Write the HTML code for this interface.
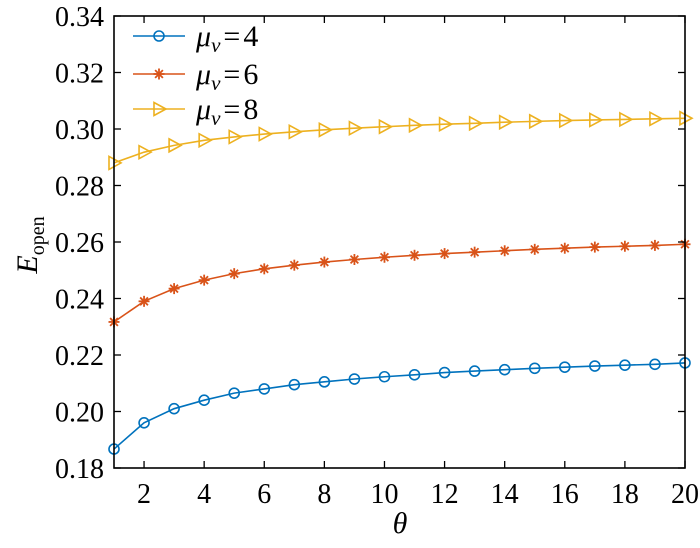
<!DOCTYPE html>
<html><head><meta charset="utf-8"><style>
html,body{margin:0;padding:0;background:#fff}
text,tspan{font-family:"Liberation Serif","DejaVu Serif",serif}
</style></head><body>
<svg id="s" width="700" height="543" viewBox="0 0 700 543" xmlns="http://www.w3.org/2000/svg" font-family="Liberation Serif, DejaVu Serif, serif"></svg>
<script>
const L=114,R=685,T=16,B=468;
const X=v=>L+(v-1)*(R-L)/19, Y=v=>B-(v-0.18)*(B-T)/0.16;
const blue=[0.1867,0.196,0.201,0.204,0.2065,0.208,0.2095,0.2105,0.2115,0.2123,0.213,0.2138,0.2143,0.2148,0.2153,0.2157,0.2161,0.2164,0.2167,0.2172];
const orng=[0.2317,0.239,0.2435,0.2465,0.2488,0.2505,0.2518,0.2529,0.2538,0.2546,0.2553,0.2559,0.2564,0.2569,0.2574,0.2578,0.2582,0.2585,0.2588,0.2592];
const yel=[0.288,0.2918,0.2942,0.296,0.2972,0.2982,0.299,0.2997,0.3003,0.3008,0.3013,0.3017,0.302,0.3024,0.3027,0.303,0.3032,0.3034,0.3036,0.3038];
let h='';
const F='font-family="Liberation Serif, DejaVu Serif, serif"';
const C1='#0072BD',C2='#D95319',C3='#EDB120';
function mk(t,x,y,c){
 if(t==0)return `<circle cx="${x}" cy="${y}" r="5" fill="none" stroke="${c}" stroke-width="1.6"/>`;
 if(t==1){let s='';for(let a=0;a<4;a++){const an=a*Math.PI/4,dx=5.5*Math.cos(an),dy=5.5*Math.sin(an);s+=`<line x1="${x-dx}" y1="${y-dy}" x2="${x+dx}" y2="${y+dy}" stroke="${c}" stroke-width="1.8"/>`;}return s;}
 return `<polygon points="${x-5},${y-6.5} ${x+7},${y} ${x-5},${y+6.5}" fill="none" stroke="${c}" stroke-width="1.6"/>`;
}
[[blue,C1,0],[orng,C2,1],[yel,C3,2]].forEach(([d,c,t])=>{
 h+=`<polyline fill="none" stroke="${c}" stroke-width="1.6" points="${d.map((v,i)=>X(i+1)+','+Y(v)).join(' ')}"/>`;
 d.forEach((v,i)=>h+=mk(t,X(i+1),Y(v),c));
});
h+=`<rect x="${L}" y="${T}" width="${R-L}" height="${B-T}" fill="none" stroke="#000" stroke-width="1.6"/>`;
for(let v=2;v<=20;v+=2){const x=X(v);h+=`<line x1="${x}" y1="${B}" x2="${x}" y2="${B-7}" stroke="#000" stroke-width="1.3"/><line x1="${x}" y1="${T}" x2="${x}" y2="${T+7}" stroke="#000" stroke-width="1.3"/><text ${F} x="${x}" y="${B+35}" font-size="28" text-anchor="middle">${v}</text>`;}
for(let k=0;k<=8;k++){const v=0.18+k*0.02,y=Y(v);h+=`<line x1="${L}" y1="${y}" x2="${L+7}" y2="${y}" stroke="#000" stroke-width="1.3"/><line x1="${R}" y1="${y}" x2="${R-7}" y2="${y}" stroke="#000" stroke-width="1.3"/><text ${F} x="${L-10}" y="${y+10}" font-size="28" text-anchor="end">${v.toFixed(2)}</text>`;}
h+=`<text ${F} x="400" y="533" font-size="30" font-style="italic" text-anchor="middle">θ</text>`;
h+=`<text ${F} transform="translate(37,245) rotate(-90)" font-size="30" text-anchor="middle"><tspan font-style="italic">E</tspan><tspan font-size="20" dy="7">open</tspan></text>`;
[[C1,0,'4',36],[C2,1,'6',74],[C3,2,'8',109]].forEach(([c,t,n,y])=>{
 h+=`<line x1="133" y1="${y}" x2="185" y2="${y}" stroke="${c}" stroke-width="1.6"/>`+mk(t,159,y,c);
 h+=`<text ${F} x="196" y="${y+10}" font-size="30"><tspan font-style="italic">μ</tspan><tspan font-style="italic" font-size="21" dy="6">v</tspan><tspan dy="-6" dx="3">=</tspan><tspan dx="3">${n}</tspan></text>`;
});
document.getElementById('s').innerHTML=h;
</script>
</body></html>
